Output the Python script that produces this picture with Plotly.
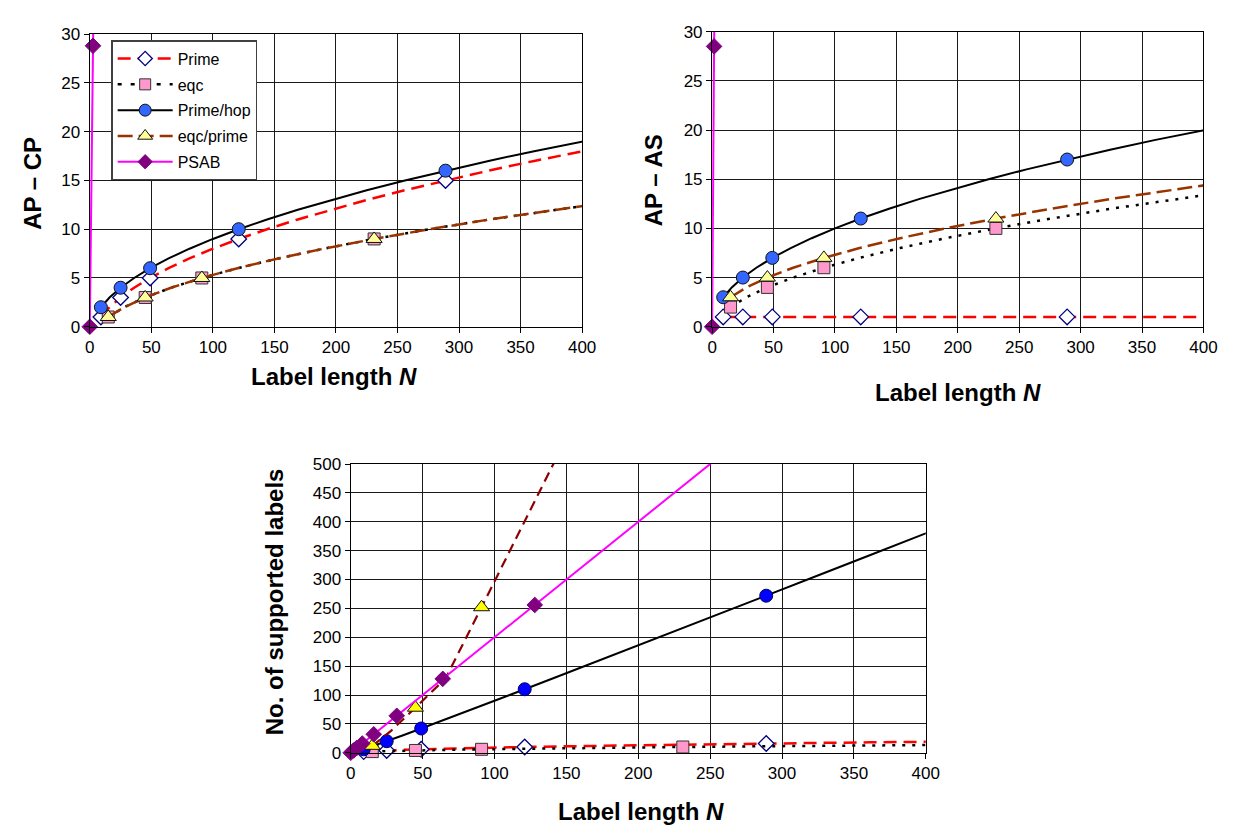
import plotly.graph_objects as go

# ---------------- data ----------------
# label lengths where markers are shown
N_prime_mk = [9, 25, 49, 121, 289]
N_eqc_mk = [15, 45, 91, 231]
# label lengths of the plotted curve points
N_sq_line = [9, 16, 25, 36, 49, 64, 81, 100, 121, 144, 169, 196, 225, 256, 289, 324, 361, 400, 441]
N_eqc_line = [15, 28, 45, 66, 91, 120, 153, 190, 231, 276, 325, 378, 435]

# AP - CP (top left)
cp_prime_mk = [1, 3, 5, 9, 15]
cp_prime_line = [1, 2, 3, 4, 5, 6, 7, 8, 9, 10, 11, 12, 13, 14, 15, 16, 17, 18, 19]
cp_hop_mk = [2, 4, 6, 10, 16]
cp_hop_line = [2, 3, 4, 5, 6, 7, 8, 9, 10, 11, 12, 13, 14, 15, 16, 17, 18, 19, 20]
cp_eqc_mk = [1, 3, 5, 9]
cp_eqc_line = [1, 2, 3, 4, 5, 6, 7, 8, 9, 10, 11, 12, 13]
cp_eqcp_mk = [1, 3, 5, 9]
cp_eqcp_line = [1, 2, 3, 4, 5, 6, 7, 8, 9, 10, 11, 12, 13]
cp_psab_N = [0, 2.6]
cp_psab = [0, 28.8]
cp_psab_line_N = [0, 2.6, 2.9]
cp_psab_line = [0, 28.8, 31.9]

# AP - AS (top right)
as_prime_mk = [1, 1, 1, 1, 1]
as_prime_line = [1, 1, 1, 1, 1, 1, 1, 1, 1, 1, 1, 1, 1, 1, 1, 1, 1, 1, 1]
as_hop_mk = [3, 5, 7, 11, 17]
as_hop_line = [3, 4, 5, 6, 7, 8, 9, 10, 11, 12, 13, 14, 15, 16, 17, 18, 19, 20, 21]
as_eqc_mk = [2, 4, 6, 10]
as_eqc_line = [2, 3, 4, 5, 6, 7, 8, 9, 10, 11, 12, 13, 14]
as_eqcp_mk = [3, 5, 7, 11]
as_eqcp_line = [3, 4, 5, 6, 7, 8, 9, 10, 11, 12, 13, 14, 15]
as_psab_N = [0, 1.6]
as_psab = [0, 28.5]
as_psab_line_N = [0, 1.6, 1.8]
as_psab_line = [0, 28.5, 32.0]

# No. of supported labels (bottom)
lb_prime_mk = [2, 4, 6, 10, 16]
lb_prime_line = [2, 3, 4, 5, 6, 7, 8, 9, 10, 11, 12, 13, 14, 15, 16, 17, 18, 19, 20]
lb_hop_mk = [6, 20, 42, 110, 272]
lb_hop_line = [6, 12, 20, 30, 42, 56, 72, 90, 110, 132, 156, 182, 210, 240, 272, 306, 342, 380, 420]
lb_eqc_mk = [2, 4, 6, 10]
lb_eqc_line = [2, 3, 4, 5, 6, 7, 8, 9, 10, 11, 12, 13, 14]
lb_eqcp_mk = [12, 78, 252]
lb_eqcp_line_N = [15, 28, 45, 66, 91, 120, 153]
lb_eqcp_line = [12, 38, 78, 129, 252, 395, 560]
lb_psab_N = [0, 2, 4, 8, 16, 32, 64, 128]
lb_psab = [0, 4, 8, 16, 32, 64, 128, 256]
lb_psab_line_N = [0, 2, 4, 8, 16, 32, 64, 128, 256]
lb_psab_line = [0, 4, 8, 16, 32, 64, 128, 256, 512]

series_names = ["Prime", "eqc", "Prime/hop", "eqc/prime", "PSAB"]
x_ticks = [0, 50, 100, 150, 200, 250, 300, 350, 400]

# ---------------- styles ----------------
FONT = "Liberation Sans, Arial, sans-serif"
RED = "#FF0000"
BROWN = "#993300"
DARKRED = "#8B0000"
MAGENTA = "#FF00FF"
PURPLE = "#800080"

line_styles = {
    "Prime": dict(color=RED, width=2.5, dash="13px,7px"),
    "eqc": dict(color="#000000", width=2.5, dash="3px,7px"),
    "Prime/hop": dict(color="#000000", width=2),
    "eqc/prime": dict(color=BROWN, width=2.5, dash="15px,6px"),
    "PSAB": dict(color=MAGENTA, width=2),
}
marker_top = {
    "Prime": dict(symbol="diamond", size=12, color="#FFFFFF", line=dict(color="#000080", width=1.3)),
    "eqc": dict(symbol="square", size=12, color="#FF99CC", line=dict(color="#333333", width=1)),
    "Prime/hop": dict(symbol="circle", size=13, color="#3366FF", line=dict(color="#111111", width=1)),
    "eqc/prime": dict(symbol="triangle-up", size=14, color="#FFFF99", line=dict(color="#111111", width=1)),
    "PSAB": dict(symbol="diamond", size=12, color=PURPLE, line=dict(color=PURPLE, width=1)),
}
marker_bot = dict(marker_top)
marker_bot["Prime/hop"] = dict(symbol="circle", size=13, color="#0000FF", line=dict(color="#000060", width=1))
marker_bot["eqc/prime"] = dict(symbol="triangle-up", size=14, color="#FFFF00", line=dict(color="#111111", width=1))
line_bot = dict(line_styles)
line_bot["eqc/prime"] = dict(color=DARKRED, width=2.2, dash="10px,6px")

fig = go.Figure()


def add_series(name, xl, yl, xm, ym, xa, ya, lstyle, mstyle, line_clip=True):
    fig.add_trace(go.Scatter(x=xl, y=yl, mode="lines", line=lstyle, xaxis=xa, yaxis=ya,
                             showlegend=False, hoverinfo="skip", cliponaxis=line_clip))
    fig.add_trace(go.Scatter(x=xm, y=ym, mode="markers", marker=mstyle, xaxis=xa, yaxis=ya,
                             showlegend=False, name=name, cliponaxis=False))


# top left
add_series("Prime", N_sq_line, cp_prime_line, N_prime_mk, cp_prime_mk, "x", "y", line_styles["Prime"], marker_top["Prime"])
add_series("eqc", N_eqc_line, cp_eqc_line, N_eqc_mk, cp_eqc_mk, "x", "y", line_styles["eqc"], marker_top["eqc"])
add_series("Prime/hop", N_sq_line, cp_hop_line, N_prime_mk, cp_hop_mk, "x", "y", line_styles["Prime/hop"], marker_top["Prime/hop"])
add_series("eqc/prime", N_eqc_line, cp_eqcp_line, N_eqc_mk, cp_eqcp_mk, "x", "y", line_styles["eqc/prime"], marker_top["eqc/prime"])
add_series("PSAB", cp_psab_line_N, cp_psab_line, cp_psab_N, cp_psab, "x", "y", line_styles["PSAB"], marker_top["PSAB"], line_clip=False)

# top right
add_series("Prime", N_sq_line, as_prime_line, N_prime_mk, as_prime_mk, "x2", "y2", line_styles["Prime"], marker_top["Prime"])
add_series("eqc", N_eqc_line, as_eqc_line, N_eqc_mk, as_eqc_mk, "x2", "y2", line_styles["eqc"], marker_top["eqc"])
add_series("Prime/hop", N_sq_line, as_hop_line, N_prime_mk, as_hop_mk, "x2", "y2", line_styles["Prime/hop"], marker_top["Prime/hop"])
add_series("eqc/prime", N_eqc_line, as_eqcp_line, N_eqc_mk, as_eqcp_mk, "x2", "y2", line_styles["eqc/prime"], marker_top["eqc/prime"])
add_series("PSAB", as_psab_line_N, as_psab_line, as_psab_N, as_psab, "x2", "y2", line_styles["PSAB"], marker_top["PSAB"], line_clip=False)

# bottom
add_series("Prime", N_sq_line, lb_prime_line, N_prime_mk, lb_prime_mk, "x3", "y3", line_bot["Prime"], marker_bot["Prime"])
add_series("eqc", N_eqc_line, lb_eqc_line, N_eqc_mk, lb_eqc_mk, "x3", "y3", line_bot["eqc"], marker_bot["eqc"])
add_series("Prime/hop", N_sq_line, lb_hop_line, N_prime_mk, lb_hop_mk, "x3", "y3", line_bot["Prime/hop"], marker_bot["Prime/hop"])
add_series("eqc/prime", lb_eqcp_line_N, lb_eqcp_line, N_eqc_mk[:3], lb_eqcp_mk, "x3", "y3", line_bot["eqc/prime"], marker_bot["eqc/prime"])
add_series("PSAB", lb_psab_line_N, lb_psab_line, lb_psab_N, lb_psab, "x3", "y3", line_bot["PSAB"], marker_bot["PSAB"])

# legend entries (top-left chart styles)
for nm in series_names:
    ls = dict(line_styles[nm])
    if nm == "eqc":
        ls["dash"] = "4px,9px"
    mk = dict(marker_top[nm])
    mk["size"] = mk["size"] - 1
    fig.add_trace(go.Scatter(x=[None], y=[None], mode="lines+markers", name=nm, line=ls,
                             marker=mk, xaxis="x", yaxis="y", legendgroup=nm, showlegend=True))

W, H = 1240, 830


def px_x(p):
    return p / W


def px_y(p):
    return 1 - p / H


axis_common = dict(
    showline=True, linecolor="#000000", linewidth=1.3, mirror=True,
    showgrid=True, gridcolor="#1a1a1a", gridwidth=1.2,
    ticks="outside", ticklen=5, tickcolor="#000000", tickwidth=1,
    tickfont=dict(family=FONT, size=17, color="#000000"),
    zeroline=False,
)

fig.update_layout(
    width=W, height=H, margin=dict(l=0, r=0, t=0, b=0),
    paper_bgcolor="#FFFFFF", plot_bgcolor="#FFFFFF",
    font=dict(family=FONT, color="#000000"),
    xaxis=dict(domain=[px_x(78), px_x(578)], range=[0, 400], tickvals=x_ticks, anchor="y", **axis_common),
    yaxis=dict(domain=[px_y(317), px_y(17.5)], range=[0, 30], tickvals=[0, 5, 10, 15, 20, 25, 30], anchor="x", **axis_common),
    xaxis2=dict(domain=[px_x(710), px_x(1209)], range=[0, 400], tickvals=x_ticks, anchor="y2", **axis_common),
    yaxis2=dict(domain=[px_y(317), px_y(15)], range=[0, 30], tickvals=[0, 5, 10, 15, 20, 25, 30], anchor="x2", **axis_common),
    xaxis3=dict(domain=[px_x(343), px_x(927)], range=[0, 400], tickvals=x_ticks, anchor="y3", **axis_common),
    yaxis3=dict(domain=[px_y(753), px_y(457.5)], range=[0, 500],
                tickvals=[0, 50, 100, 150, 200, 250, 300, 350, 400, 450, 500], anchor="x3", **axis_common),
    legend=dict(x=px_x(100), y=px_y(24), xanchor="left", yanchor="top",
                bgcolor="#FFFFFF", bordercolor="#404040", borderwidth=1.2,
                font=dict(family=FONT, size=16, color="#000000"),
                itemwidth=55, tracegroupgap=2, traceorder="grouped"),
)

title_font = dict(family=FONT, size=24, color="#000000")
annos = [
    dict(text="<b>Label length <i>N</i></b>", x=px_x(326), y=px_y(368)),
    dict(text="<b>Label length <i>N</i></b>", x=px_x(960), y=px_y(384)),
    dict(text="<b>Label length <i>N</i></b>", x=px_x(638), y=px_y(813)),
    dict(text="<b>AP – CP</b>", x=px_x(19), y=px_y(170), textangle=-90),
    dict(text="<b>AP – AS</b>", x=px_x(650), y=px_y(167), textangle=-90),
    dict(text="<b>No. of supported labels</b>", x=px_x(265), y=px_y(598), textangle=-90),
]
for a in annos:
    fig.add_annotation(xref="paper", yref="paper", showarrow=False, xanchor="center", yanchor="middle",
                       font=title_font, **a)

fig.write_html("out.html")
